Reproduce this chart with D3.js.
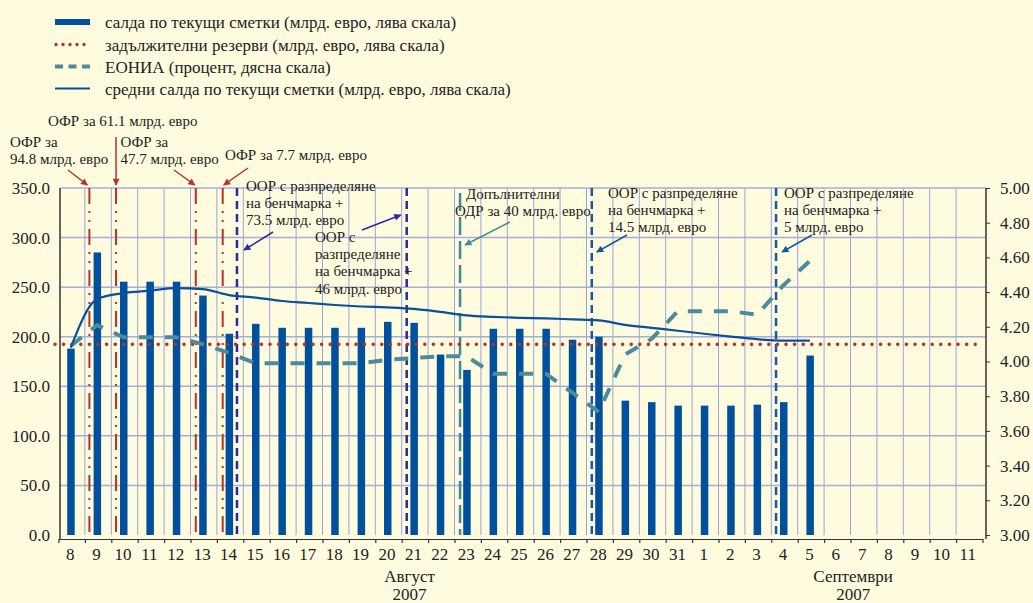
<!DOCTYPE html>
<html>
<head>
<meta charset="utf-8">
<script src="https://cdn.jsdelivr.net/npm/d3@7"></script>
<style>
  body { margin: 0; background: #fefbdf; }
</style>
</head>
<body>
<div id="chart"></div>
<script>
// days on the x axis (August 8-31, September 1-11, 2007)
const days = ["8","9","10","11","12","13","14","15","16","17","18","19","20","21","22","23","24","25","26","27","28","29","30","31",
  "1","2","3","4","5","6","7","8","9","10","11"]

// current account balances, bn EUR (left scale), Aug 8 .. Sep 5
const balances = [188, 285, 255.5, 255.5, 255.5, 241.5, 203, 213, 209, 209, 209, 209, 215, 214,
  182, 166.5, 208, 208, 208, 197, 200, 135.5, 134, 130.5, 130.5, 130.5, 131.5, 134, 181]

// average current account balances, bn EUR (left scale)
const averages = [189, 238, 244, 246.5, 249, 248, 242, 239.5, 236, 234, 232, 230.5, 229.5, 228,
  225, 221.5, 220, 219, 218.5, 217.5, 216.5, 212, 209, 206, 203, 200, 197.5, 196, 196]

// EONIA, percent (right scale)
const eonia = [4.09, 4.21, 4.14, 4.14, 4.14, 4.10, 4.05, 3.99, 3.99, 3.99, 3.99, 3.99, 4.01, 4.02,
  4.03, 4.03, 3.93, 3.93, 3.93, 3.82, 3.71, 4.04, 4.13, 4.29, 4.29, 4.29, 4.27, 4.44, 4.58]

// reserve requirements, bn EUR (left scale)
const reserveLevel = 192.3

// operations: position in day units from Aug 8, and kind
const eventIndex = [1.17, 2.18, 5.2, 6.22, 6.76, 13.19, 15.21, 20.2, 27.18]
const eventKind = ["ofr", "ofr", "ofr", "ofr", "oorA", "oorA", "odr", "oorB", "oorB"]

const leftTicks = [0, 50, 100, 150, 200, 250, 300, 350]
const rightTicks = [3.0, 3.2, 3.4, 3.6, 3.8, 4.0, 4.2, 4.4, 4.6, 4.8, 5.0]

const legendLabels = [
  "салда по текущи сметки (млрд. евро, лява скала)",
  "задължителни резерви (млрд. евро, лява скала)",
  "ЕОНИА (процент, дясна скала)",
  "средни салда по текущи сметки (млрд. евро, лява скала)"
]

const colors = {
  bar: "#00509e",
  reserve: "#b3342c",
  eonia: "#4e8b99",
  avg: "#0a4f9f",
  ofr: "#b3342c",
  oorA: "#2a2a9c",
  oorB: "#1657a8",
  odr: "#3f8c97",
  grid: "#9aa5da",
  axis: "#333"
}

const serif = "'Liberation Serif', 'DejaVu Serif', 'Times New Roman', Times, serif"
const width = 1033
const height = 603
const plot = { left: 58.5, right: 982.5, top: 188, bottom: 535 }

const svg = d3.select("#chart").append("svg")
  .attr("width", width)
  .attr("height", height)
  .attr("font-family", serif)
  .style("display", "block")

svg.append("rect").attr("width", width).attr("height", height).attr("fill", "#fefbdf")

const defs = svg.append("defs")
Object.entries(colors).forEach(([k, c]) => {
  defs.append("marker")
    .attr("id", "arrow-" + k)
    .attr("viewBox", "0 0 10 10")
    .attr("refX", 9).attr("refY", 5)
    .attr("markerWidth", 9).attr("markerHeight", 7)
    .attr("markerUnits", "userSpaceOnUse")
    .attr("orient", "auto")
    .append("path").attr("d", "M0,0 L10,5 L0,10 z").attr("fill", c)
})

// scales
const x = d3.scaleBand().domain(d3.range(days.length)).range([plot.left, plot.right]).padding(0)
const xLin = d3.scaleLinear().domain([0, days.length]).range([plot.left, plot.right])
const y = d3.scaleLinear().domain([0, 350]).range([plot.bottom, plot.top])
const yR = d3.scaleLinear().domain([3, 5]).range([plot.bottom, plot.top])
const cx = i => x(i) + x.bandwidth() / 2

// grid
const grid = svg.append("g")
grid.selectAll(".v").data(d3.range(1, days.length)).join("line")
  .attr("x1", d => xLin(d)).attr("x2", d => xLin(d))
  .attr("y1", plot.top).attr("y2", plot.bottom)
  .attr("stroke", colors.grid).attr("stroke-width", 1)
grid.selectAll(".h").data(leftTicks.slice(1)).join("line")
  .attr("x1", 60).attr("x2", 986)
  .attr("y1", d => y(d)).attr("y2", d => y(d))
  .attr("stroke", "#a6aed8").attr("stroke-width", 1.5)

// bars
svg.append("g").selectAll("rect").data(balances).join("rect")
  .attr("x", (d, i) => cx(i) - 4.5)
  .attr("width", 7.5)
  .attr("y", d => y(d))
  .attr("height", d => y(0) - y(d))
  .attr("fill", colors.bar)

// event lines
const dashes = { ofr: "16,7,2,7,2,7", oorA: "8,5", oorB: "8,5", odr: "18,6" }
svg.append("g").selectAll("line").data(eventIndex).join("line")
  .attr("x1", d => xLin(d)).attr("x2", d => xLin(d))
  .attr("y1", (d, i) => eventKind[i] === "odr" ? y(345) : plot.top)
  .attr("y2", plot.bottom)
  .attr("stroke", (d, i) => colors[eventKind[i]])
  .attr("stroke-width", (d, i) => eventKind[i] === "ofr" ? 2 : 2.5)
  .attr("stroke-dasharray", (d, i) => dashes[eventKind[i]])

// reserve line
svg.append("line")
  .attr("x1", 55).attr("x2", plot.right)
  .attr("y1", y(reserveLevel)).attr("y2", y(reserveLevel))
  .attr("stroke", colors.reserve).attr("stroke-width", 3.6)
  .attr("stroke-linecap", "round")
  .attr("stroke-dasharray", "0,8.6")

// EONIA
svg.append("path")
  .attr("d", d3.line().x((d, i) => cx(i) - 1).y(d => yR(d))(eonia))
  .attr("fill", "none").attr("stroke", colors.eonia)
  .attr("stroke-width", 4).attr("stroke-dasharray", "14,12")

// average balances
svg.append("path")
  .attr("d", d3.line().x((d, i) => cx(i) - 1).y(d => y(d)).curve(d3.curveMonotoneX)(averages))
  .attr("fill", "none").attr("stroke", colors.avg).attr("stroke-width", 2.2)

// axes
const axisY = 539
const styleAxis = g => g.attr("font-family", serif).attr("font-size", 17)

const xTicks = svg.append("g")
  .attr("transform", `translate(0,${axisY})`)
  .call(d3.axisBottom(xLin).tickValues(d3.range(days.length + 1)).tickFormat("").tickSize(4).tickSizeOuter(0))
xTicks.select(".domain").attr("stroke", colors.axis)
xTicks.selectAll(".tick line").attr("stroke", colors.axis).attr("stroke-width", 1.2)

const xLabels = svg.append("g")
  .attr("transform", `translate(0,${axisY})`)
  .call(d3.axisBottom(x).tickFormat(i => days[i]).tickSize(0).tickPadding(9))
  .call(styleAxis)
xLabels.select(".domain").remove()
xLabels.selectAll("text").attr("dx", -1.5).attr("fill", "#222")

const leftAxis = svg.append("g")
  .attr("transform", "translate(60,0)")
  .call(d3.axisLeft(y).tickValues(leftTicks).tickFormat(d3.format(".1f")).tickSize(0).tickPadding(10))
  .call(styleAxis)
leftAxis.select(".domain").attr("d", `M0,${plot.top}V${axisY}`).attr("stroke", colors.axis).attr("stroke-width", 1.5)
leftAxis.selectAll("text").attr("fill", "#222")

const rightAxis = svg.append("g")
  .attr("transform", "translate(986,0)")
  .call(d3.axisRight(yR).tickValues(rightTicks).tickFormat(d3.format(".2f")).tickSize(4).tickPadding(10))
  .call(styleAxis)
rightAxis.select(".domain").attr("d", `M0,${plot.top}V${axisY}`).attr("stroke", colors.axis).attr("stroke-width", 1.5)
rightAxis.selectAll(".tick line").attr("stroke", colors.axis)
rightAxis.selectAll("text").attr("fill", "#222")

// month labels
const months = [["Август", 13.3], ["Септември", 30.1]]
months.forEach(([m, pos]) => {
  svg.append("text").attr("font-size", 17).attr("fill", "#222")
    .attr("x", xLin(pos)).attr("y", 582).attr("text-anchor", "middle").text(m)
  svg.append("text").attr("font-size", 17).attr("fill", "#222")
    .attr("x", xLin(pos)).attr("y", 600).attr("text-anchor", "middle").text("2007")
})

// annotations
const notes = [
  { lines: ["ОФР за", "94.8 млрд. евро"], x: 10, y: 147, ev: 0, from: [68, 170], to: [-2, 185] },
  { lines: ["ОФР за 61.1 млрд. евро"], x: 48, y: 126, ev: 1, from: [116, 137], to: [0, 185] },
  { lines: ["ОФР за", "47.7 млрд. евро"], x: 120.5, y: 147, ev: 2, from: [174, 170], to: [-1, 185] },
  { lines: ["ОФР за 7.7 млрд. евро"], x: 225, y: 160, ev: 3, from: [248, 168], to: [1, 185] },
  { lines: ["ООР с разпределяне", "на бенчмарка +", "73.5 млрд. евро"], x: 246, y: 191, ev: 4, from: [273, 232], to: [7, 250] },
  { lines: ["ООР с", "разпределяне", "на бенчмарка +", "46 млрд. евро"], x: 315, y: 242, ev: 5, from: [362, 230], to: [-6, 215] },
  { lines: ["Допълнителни", "ОДР за 40 млрд. евро"], x: [466, 455], y: 199, ev: 6, from: [510, 222], to: [5, 245] },
  { lines: ["ООР с разпределяне", "на бенчмарка +", "14.5 млрд. евро"], x: 608, y: 198, ev: 7, from: [627, 235], to: [5, 252] },
  { lines: ["ООР с разпределяне", "на бенчмарка +", "5 млрд. евро"], x: 784, y: 198, ev: 8, from: [812, 235], to: [6, 252] }
]
const noteG = svg.append("g").attr("font-size", 15).attr("fill", "#222")
notes.forEach(n => {
  const t = noteG.append("text")
  n.lines.forEach((l, k) => {
    t.append("tspan")
      .attr("x", Array.isArray(n.x) ? n.x[k] : n.x)
      .attr("y", n.y + k * 17.2)
      .text(l)
  })
  const kind = eventKind[n.ev]
  noteG.append("line")
    .attr("x1", n.from[0]).attr("y1", n.from[1])
    .attr("x2", xLin(eventIndex[n.ev]) + n.to[0]).attr("y2", n.to[1])
    .attr("stroke", colors[kind]).attr("stroke-width", 1.5)
    .attr("marker-end", `url(#arrow-${kind})`)
})

// legend
const legend = svg.append("g").attr("font-size", 17).attr("fill", "#222")
const rowY = [22, 44.5, 66.5, 88.5]
legendLabels.forEach((l, i) => {
  legend.append("text").attr("x", 105).attr("y", rowY[i] + 6).text(l)
})
legend.append("rect").attr("x", 55).attr("y", rowY[0] - 3).attr("width", 35).attr("height", 6).attr("fill", colors.bar)
legend.append("line").attr("x1", 56).attr("x2", 90).attr("y1", rowY[1]).attr("y2", rowY[1])
  .attr("stroke", colors.reserve).attr("stroke-width", 3.4).attr("stroke-linecap", "round").attr("stroke-dasharray", "0,7")
legend.append("line").attr("x1", 55).attr("x2", 90).attr("y1", rowY[2]).attr("y2", rowY[2])
  .attr("stroke", colors.eonia).attr("stroke-width", 4).attr("stroke-dasharray", "8,5.5")
legend.append("line").attr("x1", 55).attr("x2", 90).attr("y1", rowY[3]).attr("y2", rowY[3])
  .attr("stroke", colors.avg).attr("stroke-width", 2.2)
</script>
</body>
</html>
